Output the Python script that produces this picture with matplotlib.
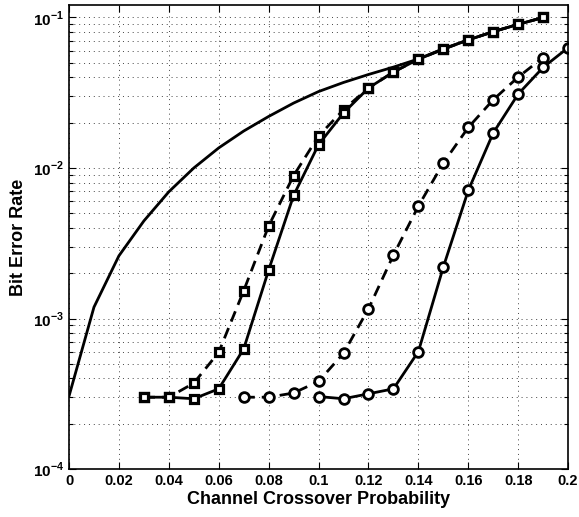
import matplotlib
matplotlib.use("Agg")
import matplotlib.pyplot as plt
from matplotlib.ticker import LogLocator, NullFormatter

plt.rcParams['font.family'] = ['Liberation Sans', 'DejaVu Sans']
plt.rcParams['font.weight'] = 'bold'
plt.rcParams['mathtext.fontset'] = 'custom'
plt.rcParams['mathtext.rm'] = 'Liberation Sans:bold'
plt.rcParams['mathtext.bf'] = 'Liberation Sans:bold'

# uncoded curve (solid, no markers)
p_unc = [0.0, 0.01, 0.02, 0.03, 0.04, 0.05, 0.06, 0.07, 0.08, 0.09, 0.10,
         0.11, 0.12, 0.13, 0.14, 0.15, 0.16, 0.17, 0.18, 0.19]
ber_unc = [3.05e-4, 1.19e-3, 2.61e-3, 4.45e-3, 6.95e-3, 1.0e-2, 1.36e-2, 1.76e-2,
           2.2e-2, 2.7e-2, 3.22e-2, 3.7e-2, 4.18e-2, 4.68e-2, 5.3e-2, 6.2e-2,
           7.1e-2, 8.05e-2, 9.0e-2, 1.0e-1]

# squares
p_sq = [0.03, 0.04, 0.05, 0.06, 0.07, 0.08, 0.09, 0.10, 0.11, 0.12,
        0.13, 0.14, 0.15, 0.16, 0.17, 0.18, 0.19]
ber_sq_dash = [3.0e-4, 3.0e-4, 3.72e-4, 5.97e-4, 1.53e-3, 4.12e-3, 8.9e-3, 1.63e-2,
               2.44e-2, 3.4e-2, 4.34e-2, 5.28e-2, 6.16e-2, 7.09e-2, 8.05e-2, 9.0e-2, 1.0e-1]
ber_sq_solid = [3.0e-4, 3.0e-4, 2.93e-4, 3.41e-4, 6.28e-4, 2.1e-3, 6.57e-3, 1.43e-2,
                2.32e-2, 3.4e-2, 4.34e-2, 5.28e-2, 6.16e-2, 7.09e-2, 8.05e-2, 9.0e-2, 1.0e-1]

# circles
p_ci_dash = [0.07, 0.08, 0.09, 0.10, 0.11, 0.12, 0.13, 0.14, 0.15, 0.16, 0.17, 0.18, 0.19]
ber_ci_dash = [3.0e-4, 3.0e-4, 3.2e-4, 3.82e-4, 5.88e-4, 1.16e-3, 2.64e-3, 5.58e-3,
               1.08e-2, 1.86e-2, 2.84e-2, 4.02e-2, 5.42e-2]
p_ci_solid = [0.10, 0.11, 0.12, 0.13, 0.14, 0.15, 0.16, 0.17, 0.18, 0.19, 0.20]
ber_ci_solid = [3.03e-4, 2.93e-4, 3.16e-4, 3.41e-4, 6.03e-4, 2.2e-3, 7.1e-3, 1.71e-2,
                3.1e-2, 4.66e-2, 6.3e-2]

x_ticks = [0, 0.02, 0.04, 0.06, 0.08, 0.1, 0.12, 0.14, 0.16, 0.18, 0.2]
x_labels = ['0', '0.02', '0.04', '0.06', '0.08', '0.1', '0.12', '0.14', '0.16', '0.18', '0.2']
y_ticks = [1e-4, 1e-3, 1e-2, 1e-1]
y_labels = [r'$10^{-4}$', r'$10^{-3}$', r'$10^{-2}$', r'$10^{-1}$']

fig = plt.figure(figsize=(5.79, 5.17), dpi=100)
ax = fig.add_axes([0.1192, 0.0928, 0.862, 0.8975])

lw = 2.0
ax.semilogy(p_unc, ber_unc, 'k-', lw=lw)
ax.semilogy(p_sq, ber_sq_dash, 'k--', lw=lw, dashes=(4, 2.5), marker='s', ms=5.5,
            mfc='white', mec='k', mew=2.3)
ax.semilogy(p_sq, ber_sq_solid, 'k-', lw=lw, marker='s', ms=5.5,
            mfc='white', mec='k', mew=2.3)
ax.semilogy(p_ci_dash, ber_ci_dash, 'k--', lw=lw, dashes=(4, 2.5), marker='o', ms=7,
            mfc='white', mec='k', mew=2)
ax.semilogy(p_ci_solid, ber_ci_solid, 'k-', lw=lw, marker='o', ms=7,
            mfc='white', mec='k', mew=2)

ax.set_xlim(0, 0.2)
ax.set_ylim(1e-4, 0.121)
ax.set_xticks(x_ticks)
ax.set_xticklabels(x_labels, fontsize=10.5, fontweight='bold')
ax.set_yticks(y_ticks)
ax.set_yticklabels(y_labels, fontsize=11)
ax.yaxis.set_minor_locator(LogLocator(base=10, subs=range(2, 10), numticks=20))
ax.yaxis.set_minor_formatter(NullFormatter())

ax.grid(True, which='major', linestyle=(0, (1, 4)), color='#444444', lw=0.7)
ax.grid(True, which='minor', axis='y', linestyle=(0, (1, 4)), color='#444444', lw=0.7)
ax.tick_params(which='both', direction='in', top=True, right=True, width=0.8)
ax.tick_params(which='major', length=5)
ax.tick_params(which='minor', length=3)
for s in ax.spines.values():
    s.set_linewidth(1.2)

ax.set_xlabel('Channel Crossover Probability', fontsize=13, fontweight='bold', labelpad=2)
ax.set_ylabel('Bit Error Rate', fontsize=13, fontweight='bold', labelpad=4)

fig.savefig('out.png', dpi=100)
